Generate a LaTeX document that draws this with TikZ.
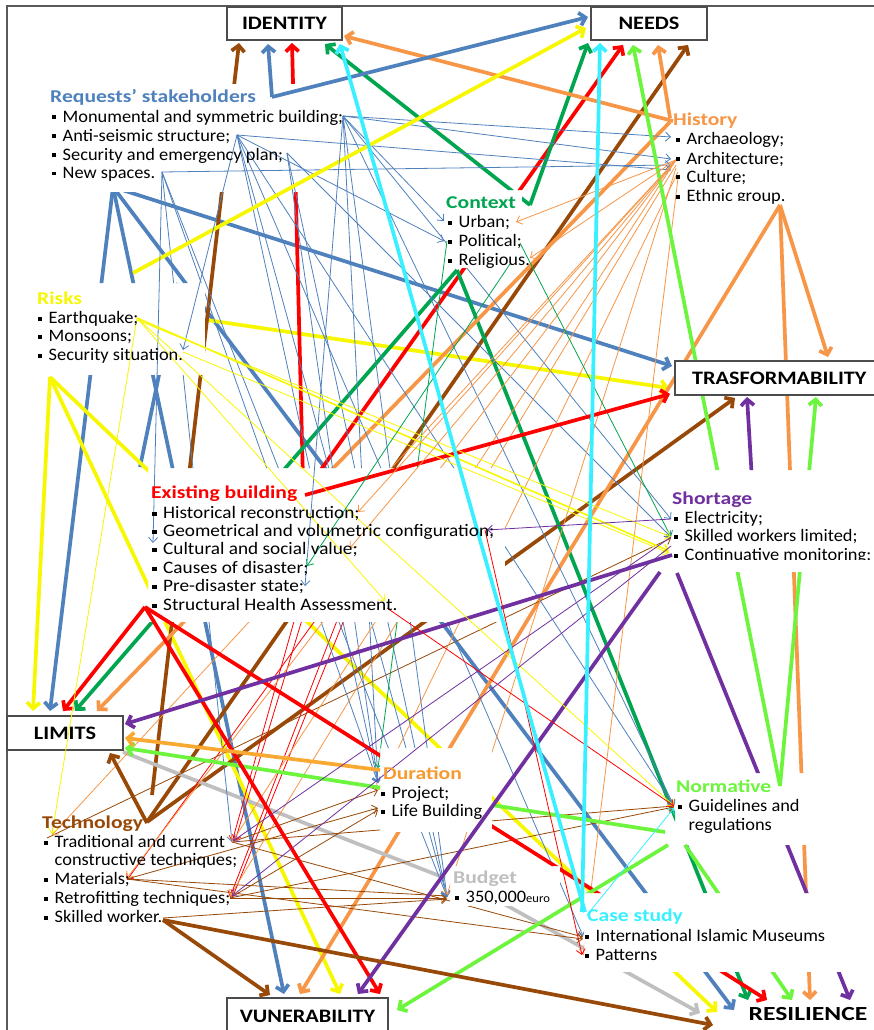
\documentclass[tikz,border=0pt]{standalone}
\usepackage{fontspec}
\usepackage{graphicx}
\setmainfont{Carlito}
\usetikzlibrary{arrows.meta}
\definecolor{cblue}{HTML}{4F81BD}
\definecolor{cyel}{HTML}{F7F700}
\definecolor{cred}{HTML}{FF0000}
\definecolor{cgreen}{HTML}{00A550}
\definecolor{corange}{HTML}{F79646}
\definecolor{cbrown}{HTML}{984807}
\definecolor{cpurple}{HTML}{7030A0}
\definecolor{clgreen}{HTML}{6CF53C}
\definecolor{ccyan}{HTML}{38F0FF}
\definecolor{cgrey}{HTML}{BFBFBF}
\definecolor{camber}{HTML}{F9A832}
\definecolor{tamber}{HTML}{F79A30}
\def\hReq{(348,84) rectangle (45,192)}
\def\hHist{(800,108) rectangle (674,200)}
\def\hCtx{(522,190) rectangle (446,268)}
\def\hRisk{(205,283) rectangle (30,375)}
\def\hExi{(505,468) rectangle (148,622)}
\def\hSho{(880,470) rectangle (674,572)}
\def\hDur{(492,748) rectangle (380,832)}
\def\hNor{(830,773) rectangle (675,845)}
\def\hBud{(560,866) rectangle (450,906)}
\def\hCas{(880,893) rectangle (584,972)}
\def\outer{(-10,-10) rectangle (890,1045)}
\newcommand\bsq{\makebox[10pt][l]{\rule[2.5pt]{4pt}{4pt}}}
\newcommand\ttlx[1]{\scalebox{1.2}[1]{#1}}
\newcommand\itx[1]{\scalebox{1.05}[1]{#1}}
\newcommand\itw[1]{\scalebox{1.1}[1]{#1}}
\newcommand\bxl[1]{\scalebox{1.17}[1]{#1}}
\tikzset{
  thk/.style={line width=3.7pt},
  thn/.style={line width=0.8pt},
  tip/.style={-{Straight Barb[length=6pt,width=13pt]}},
  tipt/.style={-{Straight Barb[length=5pt,width=9pt]}},
  mbox/.style={draw=black!70,line width=1.2pt,fill=white,inner sep=0pt},
  blab/.style={inner sep=0pt,font=\bfseries\fontsize{19}{19}\selectfont},
  tx/.style={anchor=base west,inner sep=0pt,font=\fontsize{17.5}{17.5}\selectfont},
  ttl/.style={anchor=base west,inner sep=0pt,font=\bfseries\fontsize{18}{18}\selectfont},
}
\begin{document}
\begin{tikzpicture}[x=1pt,y=-1pt]
\useasboundingbox (0,0) rectangle (873,1030);
\fill[white] (0,0) rectangle (873,1030);
\draw[black!65,line width=1.6pt] (7,1032) -- (7,6) -- (875,6);

% ---------- lines hidden by all text blocks ----------
\begin{scope}
\clip \outer \hReq \hHist \hCtx \hRisk \hExi \hSho \hDur \hNor \hBud \hCas;
\draw[thk,cblue,tip] (113,187) -- (672,366);
\draw[thk,cblue,tip] (113,187) -- (50,711);
\draw[thk,cblue,tip] (113,187) -- (284,994);
\draw[thk,cblue,tip] (113,187) -- (734,1010);
\draw[thk,cblue] (178,283) -- (140,467);
\draw[thk,cyel,tip] (207,320) -- (669,388);
\draw[thk,cyel,tip] (50,377) -- (33,711);
\draw[thk,cyel,tip] (50,377) -- (340,994);
\draw[thk,cyel,tip] (50,377) -- (717,1012);
\draw[thk,cred,tip] (310,485) -- (623,45);
\draw[thk,cred,tip] (303,480) -- (292,43);
\draw[thk,cbrown,tip] (152,795) -- (239,43);
\draw[thk,cbrown,tip] (147,822) -- (688,45);
\draw[thk,cbrown,tip] (147,822) -- (735,398);
\draw[thk,cgreen,tip] (530,205) -- (325,44);
\draw[thk,cgreen,tip] (530,205) -- (588,43);
\draw[thk,cgreen,tip] (457,270) -- (75,711);
\draw[thk,cgreen,tip] (457,270) -- (748,1000);
\draw[thk,corange,tip] (673,121) -- (344,36);
\draw[thk,corange,tip] (670,118) -- (658,45);
\draw[thk,corange,tip] (780,205) -- (828,357);
\draw[thk,corange,tip] (780,205) -- (810,1000);
\draw[thk,corange,tip] (780,205) -- (300,994);
\draw[thk,corange,tip] (670,122) -- (97,711);
\draw[thk,cpurple,tip] (677,573) -- (850,1000);
\draw[thk,cpurple,tip] (752,480) -- (747,397);
\draw[thk,cgrey] (123,752) -- (445,878);
\draw[thk,cgrey,tip] (470,885) -- (700,1013);
% thin red from existing building to technology
\draw[thn,cred,tipt] (300,600) -- (232,842);
\draw[thn,cred,tipt] (308,600) -- (235,841);
\draw[thn,cred,tipt] (330,600) -- (127,880);
\draw[thn,cred,tipt] (345,600) -- (230,897);
\draw[thn,cred,tipt] (352,600) -- (233,896);
% thin brown from technology
\draw[thn,cbrown,tipt] (232,842) -- (378,790);
\draw[thn,cbrown,tipt] (127,879) -- (378,808);
\draw[thn,cbrown,tipt] (230,898) -- (378,810);
\draw[thn,cbrown,tipt] (127,879) -- (447,896);
\draw[thn,cbrown,tipt] (230,898) -- (447,898);
\draw[thn,cbrown,tipt] (163,918) -- (447,899);
\draw[thn,cbrown,tipt] (232,842) -- (583,937);
\draw[thn,cbrown,tipt] (127,879) -- (583,939);
\draw[thn,cbrown,tipt] (232,842) -- (674,806);
\draw[thn,cbrown,tipt] (230,898) -- (674,807);
\draw[thn,cbrown,tipt] (47,838) -- (671,538);
\end{scope}

% ---------- lines from Requests' stakeholders ----------
\begin{scope}
\clip \outer \hHist \hCtx \hRisk \hExi \hSho \hDur \hNor \hBud \hCas;
\draw[thn,cblue,tipt] (343,116) -- (671,137);
\draw[thn,cblue,tipt] (343,116) -- (671,159);
\draw[thn,cblue,tipt] (343,116) -- (671,519);
\draw[thn,cblue,tipt] (343,116) -- (378,783);
\draw[thn,cblue,tipt] (343,116) -- (447,897);
\draw[thn,cblue,tipt] (343,116) -- (674,806);
\draw[thn,cblue,tipt] (343,116) -- (444,221);
\draw[thn,cblue,tipt] (237,135) -- (444,241);
\draw[thn,cblue,tipt] (237,135) -- (378,783);
\draw[thn,cblue,tipt] (237,135) -- (447,897);
\draw[thn,cblue,tipt] (237,135) -- (674,806);
\draw[thn,cblue,tipt] (237,135) -- (583,936);
\draw[thn,cblue,tipt] (237,135) -- (671,170);
\draw[thn,cblue,tipt] (287,153) -- (378,783);
\draw[thn,cblue,tipt] (287,153) -- (447,897);
\draw[thn,cblue,tipt] (287,153) -- (671,537);
\draw[thn,cblue,tipt] (162,172) -- (671,165);
\draw[thn,cblue,tipt] (162,172) -- (378,783);
\draw[thn,cblue,tipt] (162,172) -- (232,842);
\draw[thn,cblue,tipt] (162,172) -- (447,897);
\end{scope}

% ---------- lines from History ----------
\begin{scope}
\clip \outer \hReq \hCtx \hRisk \hExi \hSho \hDur \hNor \hBud \hCas;
\draw[thn,corange,tipt] (676,160) -- (52,835);
\draw[thn,corange,tipt] (676,160) -- (232,842);
\draw[thn,corange,tipt] (676,160) -- (127,878);
\draw[thn,corange,tipt] (676,165) -- (230,896);
\draw[thn,corange,tipt] (678,172) -- (378,790);
\draw[thn,corange,tipt] (678,178) -- (583,955);
\draw[thn,corange,tipt] (676,168) -- (447,895);
\end{scope}

% ---------- lines from Context ----------
\begin{scope}
\clip \outer \hReq \hHist \hRisk \hExi \hSho \hDur \hNor \hBud \hCas;
\draw[thn,cgreen,tipt] (447,241) -- (378,768);
\draw[thn,cgreen,tipt] (520,243) -- (671,537);
\end{scope}

% ---------- lines from Existing building ----------
\begin{scope}
\clip \outer \hReq \hHist \hCtx \hRisk \hSho \hDur \hNor \hBud \hCas;
\draw[thk,cred,tip] (145,607) -- (767,1000);
\end{scope}

% ---------- lines from Normative ----------
\begin{scope}
\clip \outer \hReq \hHist \hCtx \hRisk \hExi \hSho \hDur \hBud \hCas;
\draw[thk,clgreen,tip] (780,786) -- (633,45);
\draw[thk,clgreen,tip] (780,786) -- (816,397);
\draw[thk,clgreen,tip] (665,832) -- (125,748);
\draw[thk,clgreen,tip] (668,845) -- (397,1010);
\draw[thk,clgreen,tip] (685,845) -- (792,1000);
\end{scope}

% ---------- main boxes ----------
\node[mbox,minimum width=115pt,minimum height=33pt] (identity) at (284.5,23.5) {};
\node[blab] (identityl) at (284.5,23) {\bxl{IDENTITY}};
\node[mbox,minimum width=116pt,minimum height=33pt] (needs) at (649,23.5) {};
\node[blab] (needsl) at (649,23) {\bxl{NEEDS}};
\node[mbox,minimum width=205pt,minimum height=34pt] (trasf) at (777.5,378) {};
\node[blab,anchor=west] (trasfl) at (692,378) {\bxl{TRASFORMABILITY}};
\node[mbox,minimum width=116pt,minimum height=34pt] (limits) at (65,733) {};
\node[blab] (limitsl) at (65,733) {\bxl{LIMITS}};
\node[mbox,minimum width=161pt,minimum height=40pt] (vun) at (307.5,1018) {};
\node[blab] (vunl) at (307.5,1016) {\bxl{VUNERABILITY}};
\node[inner sep=0pt,font=\bfseries\fontsize{20}{20}\selectfont] (resil) at (808,1014) {\scalebox{1.28}[1]{RESILIENCE}};

% ---------- lines drawn over the blocks ----------
\draw[thk,cblue,tip] (272,97) -- (268,44);
\draw[thk,cblue,tip] (272,97) -- (588,17);
\draw[thk,cyel,tip] (133,273) -- (586,28);
\draw[thk,cred,tip] (305,495) -- (670,394);
\draw[thk,cred,tip] (145,607) -- (63,711);
\draw[thk,cred,tip] (145,607) -- (380,994);
\draw[thk,cpurple,tip] (672,555) -- (125,724);
\draw[thk,cpurple,tip] (660,572) -- (358,994);
\draw[thk,camber,tip] (380,770) -- (125,738);
\draw[thk,cbrown,tip] (147,823) -- (110,753);
\draw[thk,cbrown,tip] (163,920) -- (270,995);
\draw[thk,cbrown,tip] (163,920) -- (713,1025);
\draw[thn,cblue,tipt] (237,135) -- (183,350);
\draw[thn,cblue,tipt] (162,172) -- (153,543);
\draw[thn,cblue,tipt] (343,116) -- (305,586);
\draw[thn,cyel,tipt] (137,318) -- (385,601);
\draw[cyel,line width=1.6pt,tipt] (137,318) -- (669,551);
\draw[thn,cyel,tipt] (137,320) -- (671,537);
\draw[thn,cyel,tipt] (183,352) -- (669,553);
\draw[thn,cyel,tipt] (137,318) -- (674,806);
\draw[thn,cyel,tipt] (137,318) -- (52,834);
\draw[thn,cred,tipt] (387,608) -- (674,806);
\draw[thn,cred,tipt] (485,530) -- (582,955);
\draw[thn,corange,tipt] (676,160) -- (516,222);
\draw[thn,corange,tipt] (676,160) -- (530,258);
\draw[thn,corange,tipt] (676,160) -- (358,512);
\draw[thn,corange,tipt] (676,160) -- (350,548);
\draw[thn,cpurple,tipt] (671,519) -- (487,530);
\draw[thn,cpurple,tipt] (671,537) -- (233,841);
\draw[thn,cpurple,tipt] (671,546) -- (232,896);
\draw[thn,cgreen,tipt] (510,264) -- (307,566);
\draw[thn,ccyan,tipt] (587,915) -- (674,808);
\draw[thk,ccyan,tip] (585,912) -- (340,44);
\draw[thk,ccyan,tip] (582,912) -- (600,43);

% ---------- text blocks ----------
\node[ttl,cblue] (rq) at (50,103) {\ttlx{Requests’ stakeholders}};
\node[tx] (rq1) at (52,122) {\itx{\bsq Monumental and symmetric building;}};
\node[tx] (rq2) at (52,141) {\itx{\bsq Anti-seismic structure;}};
\node[tx] (rq3) at (52,160) {\itx{\bsq Security and emergency plan;}};
\node[tx] (rq4) at (52,178) {\itx{\bsq New spaces.}};

\node[ttl,corange] (hi) at (673,126) {\ttlx{History}};
\node[tx] (hi1) at (676,145) {\itx{\bsq Archaeology;}};
\node[tx] (hi2) at (676,164) {\itx{\bsq Architecture;}};
\node[tx] (hi3) at (676,182) {\itx{\bsq Culture;}};
\node[tx] (hi4) at (676,201) {\itx{\bsq Ethnic group.}};

\node[ttl,cgreen] (cx) at (446,208) {\ttlx{Context}};
\node[tx] (cx1) at (448,227) {\itx{\bsq Urban;}};
\node[tx] (cx2) at (448,246) {\itx{\bsq Political;}};
\node[tx] (cx3) at (448,265) {\itx{\bsq Religious.}};

\node[ttl,cyel] (ri) at (37,304) {\ttlx{Risks}};
\node[tx] (ri1) at (38,323) {\itx{\bsq Earthquake;}};
\node[tx] (ri2) at (38,341) {\itx{\bsq Monsoons;}};
\node[tx] (ri3) at (38,360) {\itx{\bsq Security situation.}};

\node[ttl,cred] (ex) at (151,498) {\ttlx{Existing building}};
\node[tx] (ex1) at (152,518) {\itw{\bsq Historical reconstruction;}};
\node[tx] (ex2) at (152,536) {\itw{\bsq Geometrical and volumetric configuration;}};
\node[tx] (ex3) at (152,554) {\itw{\bsq Cultural and social value;}};
\node[tx] (ex4) at (152,573) {\itw{\bsq Causes of disaster;}};
\node[tx] (ex5) at (152,591) {\itw{\bsq Pre-disaster state;}};
\node[tx] (ex6) at (152,610) {\itw{\bsq Structural Health Assessment.}};

\node[ttl,cpurple] (sh) at (672,504) {\ttlx{Shortage}};
\node[tx] (sh1) at (674,523) {\itx{\bsq Electricity;}};
\node[tx] (sh2) at (674,541) {\itx{\bsq Skilled workers limited;}};
\node[tx] (sh3) at (674,560) {\itx{\bsq Continuative monitoring;}};

\node[ttl,tamber] (du) at (383,779) {\ttlx{Duration}};
\node[tx] (du1) at (381,798) {\itx{\bsq Project;}};
\node[tx] (du2) at (381,816) {\itx{\bsq Life Building}};

\node[ttl,cbrown] (te) at (42,828) {\ttlx{Technology}};
\node[tx] (te1) at (44,847) {\itx{\bsq Traditional and current}};
\node[tx] (te2) at (44,865) {\itx{\hspace*{10pt}constructive techniques;}};
\node[tx] (te3) at (44,884) {\itx{\bsq Materials;}};
\node[tx] (te4) at (44,903) {\itx{\bsq Retrofitting techniques;}};
\node[tx] (te5) at (44,922) {\itx{\bsq Skilled worker.}};

\node[ttl,clgreen] (no) at (676,792) {\ttlx{Normative}};
\node[tx] (no1) at (678,811) {\itx{\bsq Guidelines and}};
\node[tx] (no2) at (678,830) {\itx{\hspace*{10pt}regulations}};

\node[ttl,cgrey] (bu) at (453,883) {\ttlx{Budget}};
\node[tx] (bu1) at (455,902) {\itx{\bsq 350,000{\fontsize{12}{12}\selectfont euro}}};

\node[ttl,ccyan] (cs) at (587,921) {\ttlx{Case study}};
\node[tx] (cs1) at (585,941) {\itx{\bsq International Islamic Museums}};
\node[tx] (cs2) at (585,960) {\itx{\bsq Patterns}};

% cut-off text edges
\fill[white] (684,201) rectangle (772,207);
\fill[white] (684,560) rectangle (873,566);
\fill[white] (54,922) rectangle (158,928);
\end{tikzpicture}
\end{document}
